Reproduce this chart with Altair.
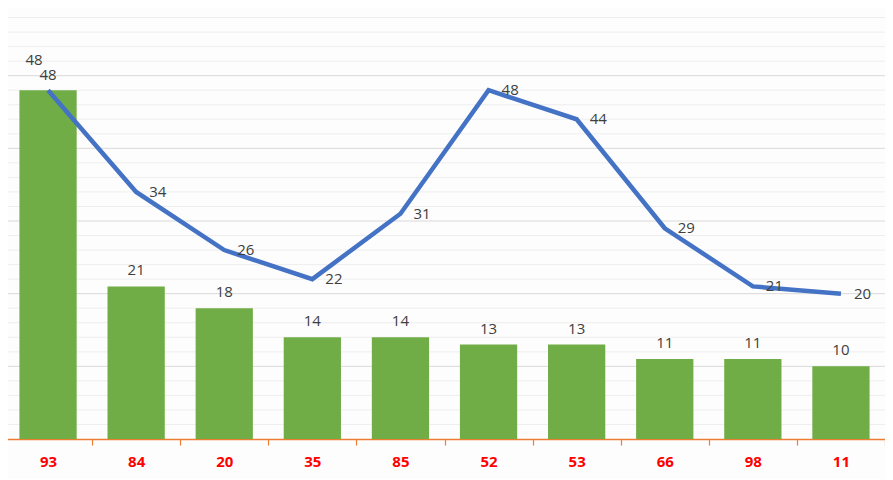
import altair as alt
import pandas as pd

categories = ["93", "84", "20", "35", "85", "52", "53", "66", "98", "11"]
bar_values = [48, 21, 18, 14, 14, 13, 13, 11, 11, 10]
line_values = [48, 34, 26, 22, 31, 48, 44, 29, 21, 20]
major_grid = [10, 20, 30, 40, 50, 60]
minor_grid = [v for v in range(2, 60, 2) if v % 10 != 0]

df = pd.DataFrame({"cat": categories, "bar": bar_values, "line": line_values,
                   "idx": list(range(len(categories)))})
gmaj = pd.DataFrame({"g": major_grid})
gmin = pd.DataFrame({"g": minor_grid})

FONT = "Open Sans"
FS = 15
TXT = "#404040"
YS = alt.Scale(domain=[0, 60], nice=False)

x = alt.X("cat:N", sort=categories, title=None,
          scale=alt.Scale(paddingInner=0, paddingOuter=0),
          axis=alt.Axis(labelColor="#FF0000", labelFontWeight="bold", labelFontSize=15,
                        labelFont=FONT, labelAngle=0, labelPadding=9,
                        domainColor="#ED7D31", domainWidth=1.3, domainOpacity=1,
                        tickColor="#ED7D31", tickSize=6, tickWidth=1.2,
                        tickBand="extent", grid=False))

minor_rules = alt.Chart(gmin).mark_rule(color="#eeeeee", strokeWidth=1).encode(
    y=alt.Y("g:Q", scale=YS, axis=None))
major_rules = alt.Chart(gmaj).mark_rule(color="#d9d9d9", strokeWidth=1).encode(
    y=alt.Y("g:Q", scale=YS, axis=None))

base = alt.Chart(df)

bars = base.mark_bar(color="#70AD47", width=alt.RelativeBandSize(0.65)).encode(
    x=x, y=alt.Y("bar:Q", scale=YS, axis=None))

bar_labels = base.transform_filter("datum.idx > 0").mark_text(
    dy=-16, fontSize=FS, font=FONT, color=TXT, baseline="middle").encode(
    x=x, y=alt.Y("bar:Q", axis=None), text="bar:Q")

bar_label_first = base.transform_filter("datum.idx == 0").mark_text(
    dx=-14, dy=-30, fontSize=FS, font=FONT, color=TXT, baseline="middle").encode(
    x=x, y=alt.Y("bar:Q", axis=None), text="bar:Q")

line = base.mark_line(color="#4472C4", strokeWidth=4.5).encode(
    x=x, y=alt.Y("line:Q", axis=None))

line_labels = base.transform_filter("datum.idx > 0").mark_text(
    dx=13, align="left", baseline="middle", fontSize=FS, font=FONT, color=TXT).encode(
    x=x, y=alt.Y("line:Q", axis=None), text="line:Q")

line_label_first = base.transform_filter("datum.idx == 0").mark_text(
    dy=-15, align="center", baseline="middle", fontSize=FS, font=FONT, color=TXT).encode(
    x=x, y=alt.Y("line:Q", axis=None), text="line:Q")

chart = alt.layer(minor_rules, major_rules, bars, line, bar_labels, bar_label_first,
                  line_labels, line_label_first).properties(
    width=881, height=436,
    autosize=alt.AutoSizeParams(type="none"),
    padding={"left": -4, "top": -5, "right": 0, "bottom": 40},
    background="#FDFDFD",
).configure_view(stroke=None)

chart.save("out.html", embed_options={"renderer": "svg", "actions": False})
